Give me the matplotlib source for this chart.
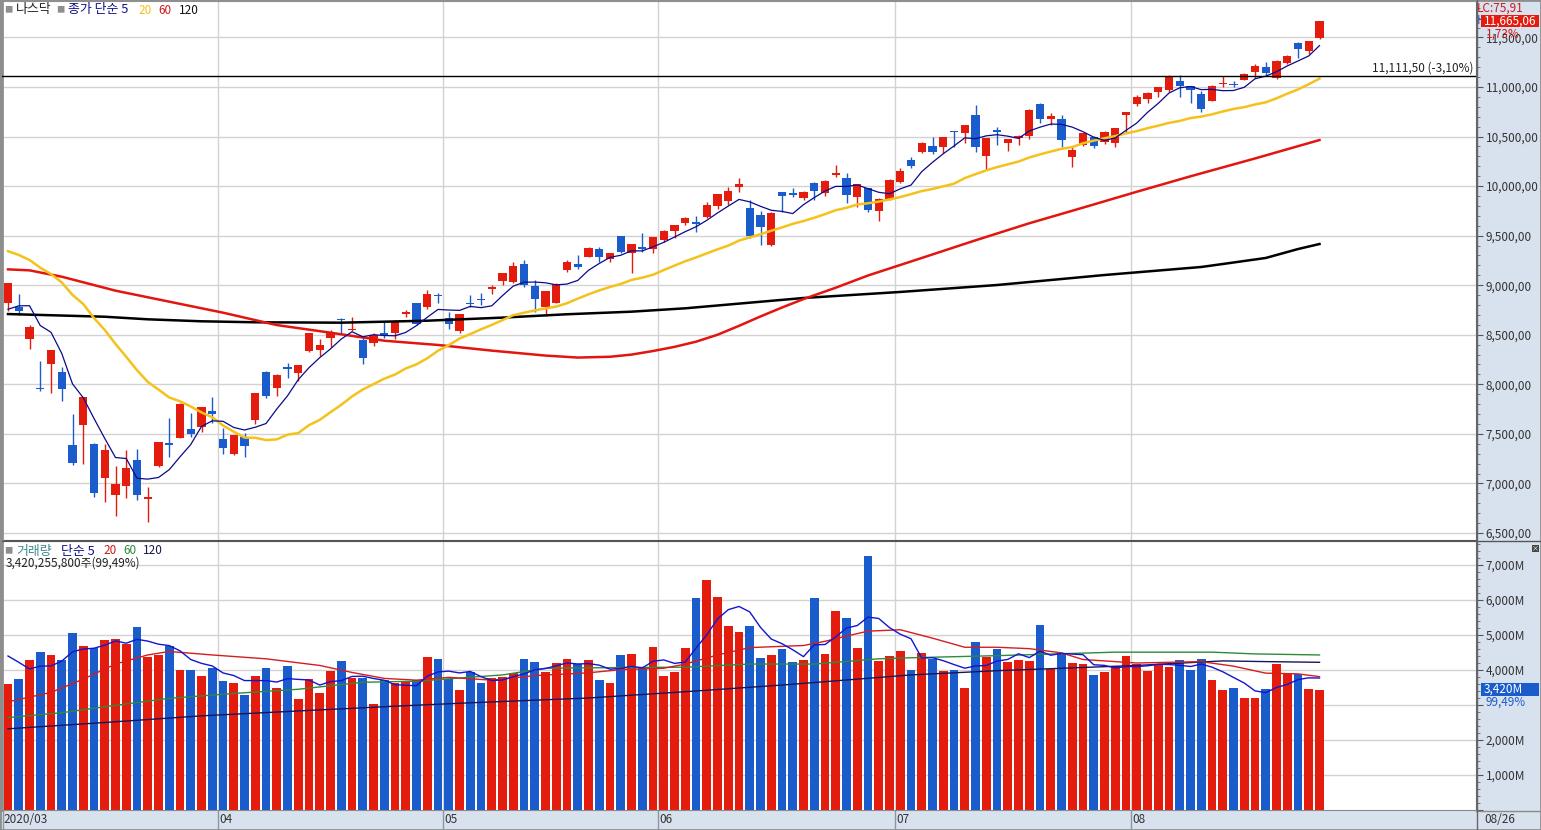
import numpy as np
import matplotlib
matplotlib.use("Agg")
import matplotlib.pyplot as plt
import matplotlib.transforms as mtransforms
from matplotlib.lines import Line2D
from matplotlib.patches import Rectangle
from matplotlib.ticker import MultipleLocator, FuncFormatter

plt.rcParams['font.family'] = ['Noto Sans CJK KR', 'DejaVu Sans']

W, H = 1541, 830

# NASDAQ daily candles, 2020-03-04 .. 2020-08-26
opens = [8820, 8785, 8460, 7960, 8205, 8124, 7388, 7590, 7394, 7054,
         6883, 6974, 7236, 6843, 7176, 7408, 7459, 7549, 7570, 7731,
         7449, 7300, 7468, 7640, 8124, 7963, 8170, 8114, 8336, 8347,
         8467, 8664, 8548, 8447, 8417, 8518, 8518, 8712, 8821, 8780,
         8901, 8669, 8538, 8816, 8865, 8960, 9042, 9032, 9214, 8992,
         8780, 8821, 9153, 9214, 9285, 9365, 9264, 9497, 9325, 9385,
         9365, 9456, 9547, 9628, 9638, 9688, 9799, 9850, 9995, 9779,
         9708, 9405, 9940, 9930, 9880, 10031, 9930, 10110, 10082, 9890,
         9981, 9749, 9870, 10041, 10263, 10344, 10405, 10395, 10556, 10536,
         10718, 10304, 10566, 10435, 10486, 10506, 10828, 10677, 10677, 10290,
         10415, 10496, 10445, 10435, 10720, 10828, 10879, 10950, 10970, 11060,
         11010, 10929, 10859, 11030, 11035, 11071, 11151, 11202, 11091, 11242,
         11444, 11363, 11494]
highs = [9018, 8911, 8600, 8235, 8344, 8175, 7700, 7875, 7408, 7398,
         7176, 7337, 7347, 6964, 7418, 7660, 7812, 7710, 7774, 7872,
         7559, 7490, 7509, 7913, 8135, 8104, 8215, 8192, 8516, 8457,
         8548, 8670, 8680, 8467, 8518, 8629, 8649, 8750, 8825, 8952,
         8922, 8730, 8711, 8901, 8922, 9002, 9121, 9234, 9254, 9053,
         8944, 9022, 9254, 9305, 9385, 9385, 9325, 9500, 9415, 9527,
         9490, 9560, 9610, 9690, 9698, 9840, 9925, 9991, 10082, 9860,
         9749, 9739, 9945, 9985, 9950, 10041, 10060, 10213, 10132, 10017,
         9985, 9880, 10070, 10182, 10293, 10445, 10495, 10495, 10560, 10620,
         10818, 10490, 10597, 10474, 10515, 10778, 10838, 10737, 10717, 10395,
         10540, 10510, 10560, 10590, 10750, 10920, 10945, 11000, 11120, 11121,
         11015, 10960, 11020, 11111, 11060, 11140, 11230, 11252, 11275, 11320,
         11454, 11466, 11670]
lows = [8740, 8700, 8360, 7935, 7912, 7832, 7186, 7196, 6863, 6816,
        6671, 6853, 6833, 6611, 7166, 7267, 7459, 7469, 7519, 7610,
        7297, 7290, 7267, 7600, 7862, 7882, 8064, 8033, 8326, 8286,
        8377, 8518, 8540, 8205, 8387, 8470, 8457, 8680, 8599, 8760,
        8821, 8558, 8518, 8780, 8800, 8911, 9002, 9022, 8982, 8730,
        8690, 8821, 9133, 9163, 9285, 9234, 9234, 9325, 9123, 9335,
        9325, 9440, 9480, 9610, 9537, 9680, 9770, 9809, 9940, 9476,
        9405, 9396, 9739, 9890, 9860, 9860, 9900, 10092, 9829, 9789,
        9739, 9648, 9860, 10030, 10182, 10334, 10324, 10334, 10395, 10440,
        10344, 10163, 10415, 10355, 10415, 10476, 10640, 10617, 10395, 10193,
        10400, 10385, 10430, 10395, 10546, 10810, 10840, 10900, 10950, 10899,
        10839, 10748, 10859, 11000, 11000, 11071, 11091, 11121, 11081, 11230,
        11293, 11333, 11485]
closes = [9018, 8738, 8575, 7950, 8344, 7952, 7202, 7875, 6905, 7335,
          6990, 7151, 6880, 6861, 7418, 7384, 7798, 7502, 7774, 7700,
          7361, 7487, 7373, 7913, 7887, 8091, 8154, 8192, 8516, 8393,
          8532, 8650, 8561, 8263, 8495, 8495, 8635, 8730, 8608, 8915,
          8890, 8605, 8711, 8809, 8854, 8980, 9121, 9192, 9003, 8863,
          8944, 9015, 9235, 9185, 9376, 9285, 9325, 9340, 9412, 9369,
          9490, 9552, 9608, 9683, 9616, 9814, 9925, 9954, 10020, 9493,
          9589, 9726, 9896, 9911, 9943, 9946, 10056, 10131, 9909, 10017,
          9757, 9874, 10059, 10155, 10208, 10434, 10344, 10492, 10548, 10617,
          10391, 10489, 10550, 10474, 10503, 10767, 10680, 10706, 10461, 10363,
          10536, 10402, 10543, 10588, 10745, 10903, 10941, 10998, 11108, 11011,
          10968, 10783, 11012, 11042, 11019, 11130, 11211, 11146, 11265, 11312,
          11380, 11466, 11665]
# volume, millions of shares
volumes = [3600, 3740, 4290, 4520, 4430, 4290, 5070, 4690, 4630, 4870,
           4890, 4750, 5240, 4380, 4430, 4690, 4000, 4000, 3830, 4060,
           3690, 3630, 3280, 3830, 4060, 3480, 4120, 3170, 3740, 3340,
           3970, 4260, 3770, 3770, 3020, 3710, 3630, 3690, 3710, 4380,
           4320, 3740, 3430, 3930, 3630, 3770, 3800, 3920, 4320, 4230,
           3940, 4200, 4320, 4170, 4290, 3710, 3630, 4430, 4460, 4060,
           4660, 3830, 3940, 4640, 6050, 6560, 6100, 5270, 5100, 5270,
           4350, 4430, 4610, 4230, 4290, 6050, 4460, 5700, 5500, 4640,
           7260, 4260, 4400, 4550, 4000, 4490, 4320, 3970, 4000, 3480,
           4810, 4380, 4610, 4230, 4290, 4260, 5300, 4030, 4490, 4200,
           4170, 3860, 3940, 4120, 4400, 4170, 3970, 4150, 4090, 4290,
           4000, 4320, 3710, 3430, 3480, 3200, 3200, 3450, 4170, 3920,
           3890, 3450, 3420]

# days before 03/04 that feed the short averages
prev_closes = [9509, 9572, 9521, 9628, 9639, 9726, 9712, 9731, 9733, 9817,
               9751, 9577, 9221, 8966, 8981, 8566, 8567, 8952, 8684]
prev_volumes = [4640, 5240, 4120, 4400]

# long averages (candle index, value)
ma60_idx = [0, 2, 5, 10, 15, 20, 25, 30, 35, 40, 45, 50, 53, 56, 58, 60, 62,
            64, 66, 68, 70, 72, 74, 77, 80, 85, 90, 95, 100, 105, 110, 116, 122]
ma60_val = [9160, 9150, 9086, 8945, 8834, 8723, 8598, 8521, 8440, 8397, 8340,
            8290, 8270, 8278, 8300, 8336, 8378, 8430, 8500, 8590, 8685, 8775,
            8860, 8975, 9098, 9275, 9453, 9625, 9783, 9943, 10099, 10279, 10465]
ma120_idx = [0, 9, 13, 18, 23, 31, 39, 46, 52, 58, 63, 74, 83, 92, 102, 111,
             113, 117, 120, 122]
ma120_val = [8709, 8682, 8656, 8636, 8626, 8622, 8642, 8673, 8707, 8733, 8767,
             8871, 8932, 9002, 9103, 9184, 9214, 9275, 9365, 9416]

vma20_idx = [0, 4, 7, 10, 13, 15, 19, 24, 29, 32, 35, 38, 41, 45, 49, 54, 57,
             61, 63, 66, 69, 74, 76, 78, 80, 83, 86, 89, 92, 95, 98, 100, 105,
             111, 114, 117, 120, 122]
vma20_val = [3090, 3360, 3740, 4170, 4430, 4530, 4430, 4320, 4130, 3930, 3760,
             3710, 3790, 3710, 3840, 3920, 4010, 4050, 4170, 4430, 4640, 4700,
             4820, 4970, 5110, 5150, 4910, 4650, 4650, 4610, 4490, 4300, 4200,
             4240, 4110, 3910, 3890, 3810]
vma60_idx = [0, 5, 10, 15, 21, 27, 33, 38, 42, 46, 50, 57, 63, 69, 75, 81, 84,
             92, 103, 112, 116, 122]
vma60_val = [2640, 2780, 2990, 3190, 3330, 3450, 3650, 3680, 3770, 3860, 4050,
             4070, 4080, 4170, 4170, 4320, 4350, 4410, 4510, 4510, 4460, 4430]
vma120_idx = [0, 9, 18, 27, 37, 42, 54, 63, 72, 84, 92, 105, 108, 113, 117, 122]
vma120_val = [2320, 2500, 2690, 2830, 2980, 3050, 3200, 3380, 3570, 3860, 3980,
              4130, 4180, 4260, 4240, 4220]

month_pos = [-0.5, 19.5, 40.5, 60.5, 82.5, 104.5]
month_labels = ['2020/03', '04', '05', '06', '07', '08']

RED = '#E41C0E'
BLUE = '#1A5CCB'
PANEL = '#D8E2EE'
GRID = '#D2D2D2'


def sma(values, prior, n):
    s = np.array(list(prior[-(n - 1):]) + list(values), dtype=float)
    return np.convolve(s, np.ones(n) / n, mode='valid')


def fxy(px, py):
    return px / W, 1 - py / H


x = np.arange(len(closes))
o = np.array(opens)
h = np.array(highs)
l = np.array(lows)
c = np.array(closes)
cols = np.where(c >= o, RED, BLUE)

fig = plt.figure(figsize=(W / 100, H / 100), dpi=100, facecolor=PANEL)
ax = fig.add_axes([2 / W, (H - 540) / H, 1474 / W, 539 / H])
axv = fig.add_axes([2 / W, 20 / H, 1474 / W, 269 / H], sharex=ax)

xmin = -6 / 10.75
ax.set_xlim(xmin, xmin + 1474 / 10.75)
ax.set_ylim(6429, 11868)
axv.set_ylim(0, 7686)

# price panel
ax.set_facecolor('white')
ax.set_axisbelow(True)
for y in range(6500, 12000, 500):
    ax.axhline(y, color=GRID, lw=1, zorder=0)
for p in month_pos[1:]:
    ax.axvline(p, color=GRID, lw=1, zorder=0)

ax.vlines(x, l, h, colors=cols, lw=1.0, zorder=2)
ax.bar(x, np.maximum(np.abs(c - o), 9), bottom=np.minimum(o, c), width=0.78,
       color=cols, edgecolor='none', zorder=3)

ax.plot(ma120_idx, ma120_val, color='black', lw=1.8, zorder=4)
ax.plot(ma60_idx, ma60_val, color='#E3150F', lw=1.8, zorder=4)
ax.plot(x, sma(closes, prev_closes, 20), color='#F4C21A', lw=1.8, zorder=4)
ax.plot(x, sma(closes, prev_closes, 5), color='#0A0A8C', lw=0.9, zorder=5)

ax.axhline(11111.5, color='black', lw=1, zorder=5)
ax.text(xmin + 1471 / 10.75, 11111.5 + 15, '11,111,50 (-3,10%)',
        ha='right', va='bottom', fontsize=8.5, color='#222')

ax.yaxis.tick_right()
ax.yaxis.set_major_locator(MultipleLocator(500))
ax.yaxis.set_minor_locator(MultipleLocator(100))
ax.yaxis.set_major_formatter(FuncFormatter(lambda v, p: f"{v:,.2f}".replace('.', ',')))
ax.tick_params(axis='y', which='major', length=5, width=0.8, color='#555',
               labelsize=8.5, labelcolor='#333', pad=2)
ax.tick_params(axis='y', which='minor', length=3, width=0.7, color='#777')
ax.tick_params(axis='x', length=0, labelbottom=False)
ax.spines['left'].set_color('#8E8E8E')
ax.spines['left'].set_linewidth(2)
ax.spines['top'].set_color('#9A9A9A')
ax.spines['right'].set_color('#666')
ax.spines['bottom'].set_color('#555')

# volume panel
axv.set_facecolor('white')
axv.set_axisbelow(True)
for y in range(1000, 8000, 1000):
    axv.axhline(y, color=GRID, lw=1, zorder=0)
for p in month_pos[1:]:
    axv.axvline(p, color=GRID, lw=1, zorder=0)
axv.bar(x, volumes, width=0.82, color=cols, edgecolor='none', zorder=2)
axv.plot(vma120_idx, vma120_val, color='#16165C', lw=1, zorder=3)
axv.plot(vma60_idx, vma60_val, color='#2E8B3C', lw=1, zorder=3)
axv.plot(vma20_idx, vma20_val, color='#D41E1E', lw=1, zorder=3)
axv.plot(x, sma(volumes, prev_volumes, 5), color='#1414D2', lw=1, zorder=4)

axv.yaxis.tick_right()
axv.yaxis.set_major_locator(MultipleLocator(1000))
axv.yaxis.set_minor_locator(MultipleLocator(200))
axv.yaxis.set_major_formatter(FuncFormatter(
    lambda v, p: '' if v in (0, 3000) else f"{v:,.0f}M"))
axv.tick_params(axis='y', which='major', length=5, width=0.8, color='#555',
                labelsize=8.5, labelcolor='#333', pad=2)
axv.tick_params(axis='y', which='minor', length=3, width=0.7, color='#777')
axv.set_xticks(month_pos)
axv.tick_params(axis='x', length=19, width=1, color='#8A96A6', labelbottom=False)
axv.spines['left'].set_color('#8E8E8E')
axv.spines['left'].set_linewidth(2)
axv.spines['top'].set_color('#555')
axv.spines['right'].set_color('#666')
axv.spines['bottom'].set_color('#8A8A8A')

tr = mtransforms.blended_transform_factory(axv.transData, fig.transFigure)
for p, lab in zip(month_pos, month_labels):
    axv.text(p + 0.12, 1 - 819 / H, lab, transform=tr, ha='left', va='center',
             fontsize=8.5, color='#333')

# separators through the right panel and outer frame
for py, col in ((540.5, '#555'), (810.5, '#8A8A8A')):
    fig.add_artist(Line2D([1476 / W, 1], [1 - py / H] * 2, color=col, lw=1))
fig.add_artist(Line2D([1476.5 / W] * 2, [0, 1], color='#666', lw=1))
fig.add_artist(Rectangle((0, 0), 1, 1, transform=fig.transFigure, fill=False,
                         ec='#8E8E8E', lw=2))

# legends
fs = 8.5
fk = 9.3
fig.text(*fxy(4, 10), '■', fontsize=6, color='#8E8E8E', va='center')
fig.text(*fxy(16, 10), '나스닥', fontsize=fk, color='#222', va='center')
fig.text(*fxy(56, 10), '■', fontsize=6, color='#8E8E8E', va='center')
fig.text(*fxy(68, 10), '종가 단순 5', fontsize=fk, color='#12128C', va='center')
fig.text(*fxy(138, 10), '20', fontsize=fs, color='#F2C21A', va='center')
fig.text(*fxy(158, 10), '60', fontsize=fs, color='#D01818', va='center')
fig.text(*fxy(179, 10), '120', fontsize=fs, color='#111', va='center')

fig.text(*fxy(4, 551), '■', fontsize=6, color='#8E8E8E', va='center')
fig.text(*fxy(16, 551), '거래량', fontsize=fk, color='#3D8C8C', va='center')
fig.text(*fxy(61, 551), '단순 5', fontsize=fk, color='#12128C', va='center')
fig.text(*fxy(103, 551), '20', fontsize=fs, color='#D01818', va='center')
fig.text(*fxy(123, 551), '60', fontsize=fs, color='#2E8B3C', va='center')
fig.text(*fxy(143, 551), '120', fontsize=fs, color='#16164A', va='center')
fig.text(*fxy(6, 563), '3,420,255,800주(99,49%)', fontsize=fs, color='#222',
         va='center')

# right-panel value boxes
fig.text(*fxy(1477, 8), 'LC:75,91', fontsize=fs, color='#D01818', va='center')
fig.text(*fxy(1477, 21), 'H', fontsize=fs, color='#1A5CCB', va='center')
fig.add_artist(Rectangle(fxy(1481, 27), 58 / W, 12 / H,
                         transform=fig.transFigure, fc='#E41C0E', ec='none',
                         zorder=5))
fig.text(*fxy(1510, 21), '11,665,06', fontsize=fs, color='white', ha='center',
         va='center', zorder=6)
fig.text(*fxy(1486, 34), '1,73%', fontsize=fs, color='#D01818', va='center',
         zorder=6)

fig.add_artist(Rectangle(fxy(1481, 696), 58 / W, 13 / H,
                         transform=fig.transFigure, fc='#1A5CCB', ec='none',
                         zorder=5))
fig.text(*fxy(1484, 689.5), '3,420M', fontsize=fs, color='white', va='center',
         zorder=6)
fig.text(*fxy(1485, 702), '99,49%', fontsize=fs, color='#1A5CCB', va='center',
         zorder=6)

fig.add_artist(Rectangle(fxy(1532, 552), 7 / W, 7 / H, transform=fig.transFigure,
                         fc='#444', ec='none', zorder=5))
fig.text(*fxy(1535.5, 548.5), '×', fontsize=5, color='white', ha='center',
         va='center', zorder=6)

fig.text(*fxy(1484, 819), '08/26', fontsize=fs, color='#333', va='center')

fig.savefig('out.png', dpi=100, facecolor=PANEL)
